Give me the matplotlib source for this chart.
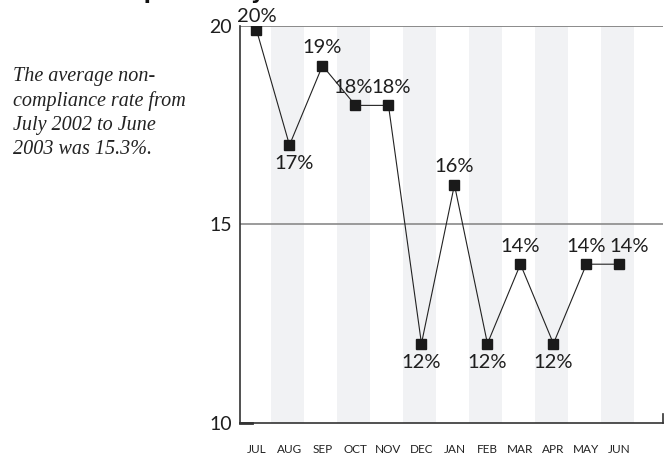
import matplotlib
matplotlib.use('Agg')
import matplotlib.pyplot as plt

months = ['JUL', 'AUG', 'SEP', 'OCT', 'NOV', 'DEC', 'JAN', 'FEB', 'MAR', 'APR', 'MAY', 'JUN']
rates = [19.9, 17, 19, 18, 18, 12, 16, 12, 14, 12, 14, 14]
rate_labels = ['20%', '17%', '19%', '18%', '18%', '12%', '16%', '12%', '14%', '12%', '14%', '14%']
label_above = [True, False, True, True, True, False, True, False, True, False, True, True]
yticks = [10, 15, 20]

num_font = 'Lato'

fig = plt.figure(figsize=(6.7, 4.55), dpi=100)
ax = fig.add_axes([0.3582, 0.0703, 0.6313, 0.8726])

x = list(range(len(months)))

# light bands behind every other month
for i in x:
    if i % 2 == 1:
        ax.axvspan(i - 0.56, i + 0.44, color='#f1f2f4', zorder=0, lw=0)

ax.axhline(20, color='#8a8a8a', lw=1.4, zorder=1)
ax.axhline(15, color='#8a8a8a', lw=1.2, zorder=1)

ax.plot(x, rates, color='#222222', lw=0.8, marker='s', markersize=7,
        markerfacecolor='#1a1a1a', markeredgecolor='#1a1a1a', zorder=3)

# small sideways nudges so neighbouring labels do not collide
nudge = {1: 3, 3: -2, 4: 2, 11: 7}
for i, (xi, v, lab, up) in enumerate(zip(x, rates, rate_labels, label_above)):
    if up:
        off = 6 if i == 0 else 9
    else:
        off = -17.5
    ax.annotate(lab, (xi, v), xytext=(nudge.get(i, 0), off), textcoords='offset points',
                ha='center', va='baseline', fontsize=14.5, color='#1e1e1e',
                family=num_font, annotation_clip=False)

ax.set_xlim(-0.5, 12.32)
ax.set_ylim(10, 20)
ax.set_yticks(yticks)
ax.set_yticklabels([str(t) for t in yticks], fontsize=14, color='#1e1e1e',
                   family=num_font)
ax.set_xticks(x)
ax.set_xticklabels(months, fontsize=8.5, color='#222222', family=num_font)
ax.tick_params(axis='x', length=0, pad=15)
ax.tick_params(axis='y', length=0, pad=6)

for s in ['top', 'right']:
    ax.spines[s].set_visible(False)
ax.spines['left'].set_color('#333333')
ax.spines['bottom'].set_color('#333333')
ax.spines['left'].set_linewidth(1.2)
ax.spines['bottom'].set_linewidth(1.2)
# small end ticks
ax.plot([-0.5, -0.15], [10, 10], color='#333333', lw=2, clip_on=False, zorder=4)
ax.plot([12.32, 12.32], [10, 10.23], color='#333333', lw=1.2, clip_on=False)

fig.text(0.019, 0.853,
         'The average non-\ncompliance rate from\nJuly 2002 to June\n2003 was 15.3%.',
         fontsize=14.5, style='italic', family='Liberation Serif', color='#222222',
         ha='left', va='top', linespacing=1.35)

fig.text(0.06, 1.0 + 1 / 455, 'Non-compliance by Month', fontsize=15, fontweight='bold',
         ha='left', va='baseline', color='#111111')

fig.savefig('out.png', dpi=100)
